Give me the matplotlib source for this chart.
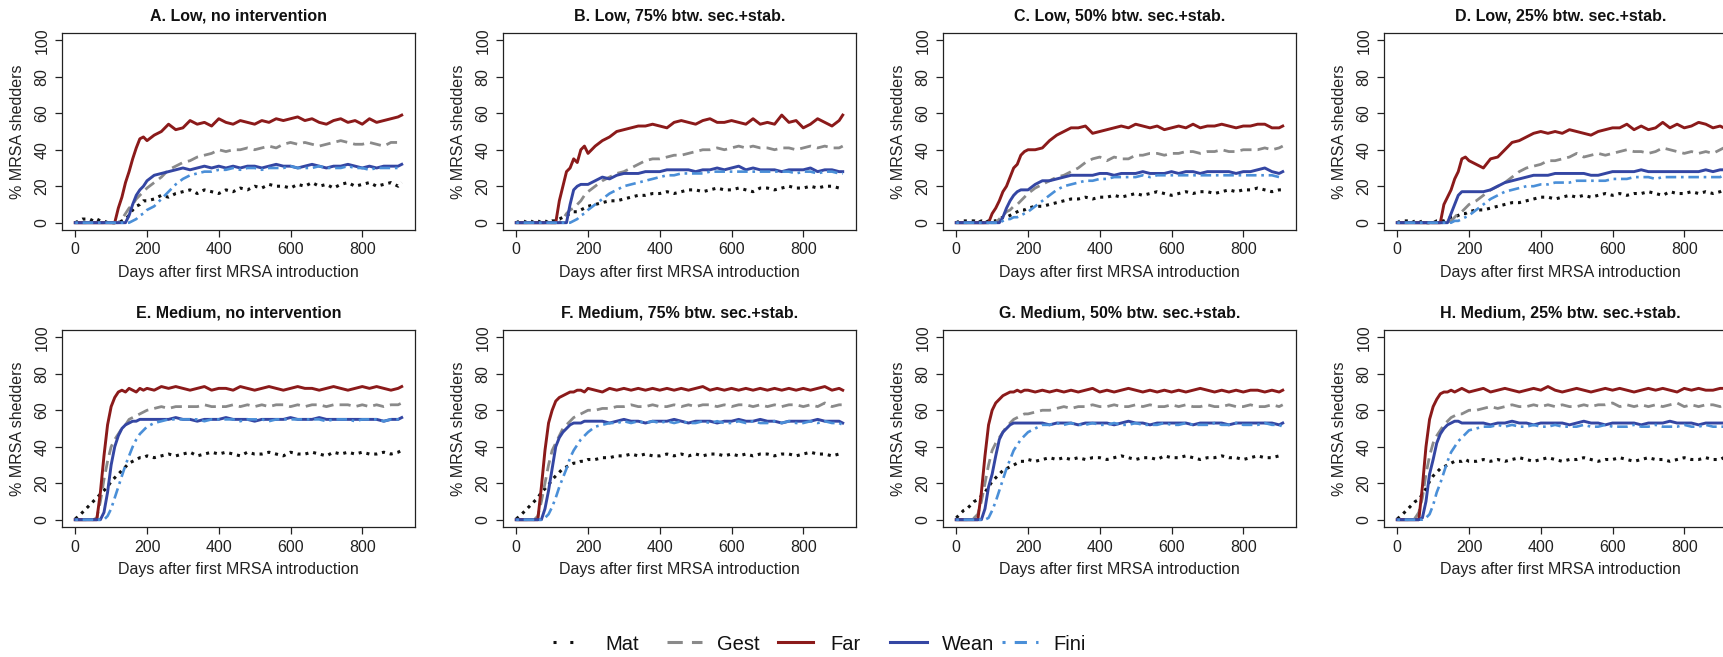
import matplotlib
matplotlib.use("Agg")
import matplotlib.pyplot as plt
from matplotlib.lines import Line2D

plt.rcParams['font.family'] = ['Liberation Sans', 'DejaVu Sans']

days = list(range(0, 201, 10)) + list(range(220, 901, 20)) + [910]

titles = ["A. Low, no intervention", "B. Low, 75% btw. sec.+stab.",
          "C. Low, 50% btw. sec.+stab.", "D. Low, 25% btw. sec.+stab.",
          "E. Medium, no intervention", "F. Medium, 75% btw. sec.+stab.",
          "G. Medium, 50% btw. sec.+stab.", "H. Medium, 25% btw. sec.+stab."]
series_names = ["Mat", "Gest", "Far", "Wean", "Fini"]
x_ticks = [0, 200, 400, 600, 800]
y_ticks = [0, 20, 40, 60, 80, 100]

# ---- Panel A ----
A_mat = [0,1,2,2,2,1,2,1,1,0,0,0,0,1,2,4,7,9,10,12,12,
         13,15,14,16,17,18,16,18,17,16,18,17,19,18,20,19,21,20,20,19,21,20,22,20,21,19,21,22,20,21,22,20,21,22,20, 22]
A_gest = [0,0,0,0,0,0,0,0,0,0,0,0,0,2,5,8,10,13,15,17,19,
          22,25,29,31,33,34,36,37,38,40,39,40,40,41,40,41,42,41,43,44,43,44,43,42,43,44,45,44,43,43,44,43,42,44,44, 45]
A_far = [0,0,0,0,0,0,0,0,0,0,0,0,8,14,22,28,35,41,46,47,45,
         48,50,54,51,52,56,54,55,53,57,55,54,56,55,54,56,55,57,56,57,58,56,57,55,54,56,57,55,56,54,57,55,56,57,58, 59]
A_wean = [0,0,0,0,0,0,0,0,0,0,0,0,0,0,0,4,10,15,18,20,23,
          26,27,28,29,30,29,30,31,30,31,30,31,30,31,31,30,31,32,31,31,30,31,32,31,30,31,31,32,31,30,31,30,31,31,31, 32]
A_fini = [0,0,0,0,0,0,0,0,0,0,0,0,0,0,0,0,1,2,4,5,7,
          9,13,17,21,24,26,27,28,28,29,29,30,29,30,30,29,30,30,30,31,30,30,30,31,30,30,30,31,30,30,29,30,30,30,30, 31]

# ---- Panel B ----
B_mat = [0,1,1,0,1,0,1,0,1,0,1,1,2,3,4,5,6,6,7,8,9,
         10,11,12,12,13,14,15,15,16,16,17,16,17,18,18,17,18,19,18,18,19,18,17,19,19,18,19,20,19,19,20,19,20,20,19, 20]
B_gest = [0,0,0,0,0,0,0,0,0,0,0,0,0,2,5,7,8,10,12,15,17,
          20,23,25,27,28,30,32,34,35,35,36,37,37,38,39,40,40,41,40,41,42,41,42,41,41,40,41,41,40,41,42,41,42,41,41, 42]
B_far = [0,0,0,0,0,0,0,0,0,0,0,0,12,20,28,30,35,33,40,42,38,
         42,45,47,50,51,52,53,53,54,53,52,55,56,55,54,56,57,55,55,56,55,54,57,54,55,54,59,55,56,52,54,57,55,53,56, 59]
B_wean = [0,0,0,0,0,0,0,0,0,0,0,0,0,0,0,10,18,20,21,21,21,
          23,25,24,26,27,27,27,28,28,28,29,29,29,29,28,29,29,30,29,30,31,29,30,29,29,29,28,29,29,29,30,28,29,29,28, 28]
B_fini = [0,0,0,0,0,0,0,0,0,0,0,0,0,0,0,0,1,2,4,5,7,
          10,13,16,18,20,21,22,23,24,25,26,26,27,27,27,27,28,28,28,28,28,28,28,28,28,28,28,28,27,28,28,27,28,28,27, 27]

# ---- Panel C ----
C_mat = [0,1,1,1,1,1,0,1,0,1,1,1,2,3,3,4,5,6,7,7,8,
         9,9,10,11,12,13,13,14,13,14,14,15,14,15,16,15,16,17,16,15,16,17,16,17,17,16,17,18,17,18,18,19,18,17,18, 18]
C_gest = [0,0,0,0,0,0,0,0,0,0,0,0,2,4,6,7,9,10,12,14,16,
          19,21,23,25,26,28,30,33,35,36,34,36,35,35,37,37,38,38,37,38,38,39,39,38,39,39,40,39,39,40,40,40,41,40,41, 42]
C_far = [0,0,0,0,0,0,0,0,0,0,5,8,12,17,20,25,30,32,37,39,40,
         40,41,45,48,50,52,52,53,49,50,51,52,53,52,54,53,52,53,51,52,53,52,54,52,53,53,54,53,52,53,53,54,54,52,52, 53]
C_wean = [0,0,0,0,0,0,0,0,0,0,0,0,0,3,8,12,15,17,18,18,18,
          21,23,23,24,25,26,26,26,26,27,27,26,27,27,27,28,27,27,27,28,27,28,28,27,28,28,28,28,27,28,28,29,30,28,27, 28]
C_fini = [0,0,0,0,0,0,0,0,0,0,0,0,0,1,2,2,3,3,4,5,6,
          9,12,15,18,20,21,22,23,23,24,24,25,25,25,25,26,25,26,26,26,26,26,26,26,26,26,26,26,26,26,26,26,26,26,25, 25]

# ---- Panel D ----
D_mat = [0,1,1,1,0,1,0,1,0,0,0,1,1,1,2,3,3,4,5,5,6,
         7,7,8,9,10,11,11,12,13,14,14,13,14,15,14,15,14,15,16,15,16,15,16,16,17,16,15,17,16,16,17,16,17,16,17, 18]
D_gest = [0,0,0,0,0,0,0,0,0,0,0,0,0,0,0,1,3,5,6,8,10,
          12,15,18,20,22,25,28,30,31,32,34,34,35,36,38,36,37,38,37,38,39,40,39,39,38,39,41,40,39,38,39,38,39,38,40, 41]
D_far = [0,0,0,0,0,0,0,0,0,0,0,0,0,10,14,18,24,28,35,36,34,
         32,30,35,36,40,44,45,47,49,50,49,50,49,51,50,49,48,50,51,52,52,54,51,53,51,52,55,52,54,52,53,55,54,52,53, 52]
D_wean = [0,0,0,0,0,0,0,0,0,0,0,0,0,0,0,5,10,15,17,17,17,
          17,17,18,20,22,23,24,25,26,26,26,27,27,27,27,27,26,26,27,28,28,28,28,29,28,28,28,28,28,28,28,28,29,28,29, 29]
D_fini = [0,0,0,0,0,0,0,0,0,0,0,0,0,0,0,0,1,1,2,3,4,
          7,10,13,15,17,18,19,20,20,21,21,22,22,22,23,23,23,23,23,24,24,24,25,25,25,24,25,25,25,25,25,25,25,25,25, 26]

# ---- Panel E ----
E_mat = [0.5,2,4,6,8,10,12,14,16,18,21,23,25,27,29,31,32,33,34,34,35,
         34,35,36,35,36,37,35,36,37,36,37,36,35,37,36,36,37,36,35,37,36,36,37,36,35,37,36,37,36,37,36,36,37,36,37, 38]
E_gest = [0,0,0,0,0,0,1,10,22,32,40,44,47,50,52,55,56,57,58,59,60,
          61,62,61,62,62,62,62,63,62,62,62,63,62,63,62,63,62,63,63,62,63,62,63,63,62,63,63,63,62,63,62,63,62,63,63, 64]
E_far = [0,0,0,0,0,0,0,15,35,52,62,67,70,71,70,72,71,70,72,71,72,
         71,73,72,73,72,71,72,73,71,72,72,71,73,72,71,72,73,72,71,72,73,72,72,71,72,73,72,71,72,73,72,73,72,71,72, 73]
E_wean = [0,0,0,0,0,0,0,0,4,15,30,40,46,50,52,53,54,54,55,55,55,
          55,55,55,56,55,55,54,55,55,55,56,55,55,55,54,55,55,55,55,56,55,55,55,56,55,55,55,55,55,55,55,55,54,55,55, 56]
E_fini = [0,0,0,0,0,0,0,0,0,2,6,12,18,24,30,35,40,44,47,49,51,
          53,54,55,55,55,55,55,54,55,55,55,55,54,55,55,55,54,55,55,55,55,55,55,55,54,55,55,55,54,55,55,55,54,55,55, 55]

# ---- Panel F ----
F_mat = [0.5,2,4,6,8,10,12,15,17,19,22,24,26,28,29,30,31,31,32,32,33,
         33,34,34,35,35,36,35,36,35,35,36,35,36,35,36,35,36,36,35,36,35,36,35,36,36,35,36,36,35,36,37,36,36,35,36, 35]
F_gest = [0,0,0,0,0,0,2,10,20,30,38,42,46,50,52,54,56,57,58,59,60,
          60,61,61,62,62,63,62,62,63,62,62,63,62,63,62,63,63,62,63,62,63,63,62,63,62,63,62,63,63,62,63,62,64,62,63, 63]
F_far = [0,0,0,0,0,0,0,18,38,53,60,65,67,68,69,70,70,71,71,70,72,
         71,70,72,71,72,71,72,71,72,71,72,71,72,71,72,73,71,72,71,72,71,72,71,72,71,72,71,72,71,72,71,72,73,71,72, 71]
F_wean = [0,0,0,0,0,0,0,0,6,16,28,40,45,48,50,52,53,53,53,54,54,
          54,54,53,54,55,54,54,53,54,54,54,55,54,53,54,54,54,53,54,54,55,54,54,55,54,54,53,54,54,54,54,55,54,54,54, 53]
F_fini = [0,0,0,0,0,0,0,0,1,3,7,12,18,23,28,34,38,41,44,46,48,
          51,52,53,53,54,53,54,53,54,53,54,53,54,53,53,54,53,54,53,53,54,53,54,53,53,54,53,54,53,53,54,53,54,53,53, 52]

# ---- Panel G ----
G_mat = [1,3,5,6,8,10,11,13,15,18,21,23,25,27,28,29,30,31,32,32,33,
         32,33,34,33,34,33,34,33,34,34,33,34,35,34,33,34,34,33,35,34,34,35,34,33,34,34,35,34,34,33,34,35,34,34,35, 34]
G_gest = [0,0,0,0,0,1,3,10,20,30,38,42,45,48,51,53,55,56,57,58,58,
          59,60,60,61,62,61,62,62,63,62,62,63,62,62,63,62,63,62,62,63,62,63,62,62,63,62,62,63,62,62,63,62,62,63,62, 63]
G_far = [0,0,0,0,0,0,0,15,35,52,60,64,66,68,69,70,70,71,70,71,71,
         70,71,70,71,70,71,70,71,72,70,71,70,71,72,71,70,71,70,71,70,71,70,71,72,71,70,71,70,71,70,71,71,70,71,70, 71]
G_wean = [0,0,0,0,0,0,0,0,6,18,25,35,44,48,50,52,53,53,53,53,53,
          53,53,52,53,53,53,52,53,53,53,53,52,53,54,53,53,52,53,53,53,53,53,52,53,53,53,53,52,53,53,53,53,53,53,52, 53]
G_fini = [0,0,0,0,0,0,0,0,0,1,5,10,16,22,28,33,38,41,44,46,48,
          50,52,52,53,52,53,52,52,53,52,52,53,52,52,53,52,52,52,53,52,52,53,52,52,52,53,52,52,53,52,52,52,53,52,52, 51]

# ---- Panel H ----
H_mat = [0.5,2,4,6,8,10,11,14,17,21,24,26,28,29,30,31,32,32,32,33,32,
         32,33,32,33,32,33,34,33,32,33,34,33,32,33,33,34,33,32,33,33,34,33,32,33,34,33,33,32,33,34,33,33,34,33,33, 34]
H_gest = [0,0,0,0,0,1,4,12,25,35,42,46,49,52,54,56,57,58,58,59,60,
          60,61,62,61,62,63,62,62,63,62,63,62,63,62,62,63,62,63,63,64,62,63,62,63,62,63,62,63,64,62,63,62,63,63,62, 63]
H_far = [0,0,0,0,0,0,0,18,40,55,62,66,69,70,70,71,70,71,72,71,70,
         71,72,70,71,72,71,70,71,72,71,73,71,70,71,72,71,70,71,72,71,72,71,70,71,72,71,72,71,70,72,71,72,71,71,72, 72]
H_wean = [0,0,0,0,0,0,0,1,10,25,33,42,47,50,52,53,54,54,53,53,53,
          53,53,52,53,53,54,53,53,52,53,53,53,53,52,53,54,53,53,52,53,53,53,53,52,53,53,53,54,53,53,53,52,53,53,53, 53]
H_fini = [0,0,0,0,0,0,0,0,1,3,8,15,20,26,32,37,40,43,45,47,49,
          50,51,51,52,51,52,51,51,52,51,51,52,51,51,51,52,51,51,52,51,51,51,52,51,51,52,51,51,51,52,51,51,52,51,51, 51]

panel_data = [
    [A_mat, A_gest, A_far, A_wean, A_fini],
    [B_mat, B_gest, B_far, B_wean, B_fini],
    [C_mat, C_gest, C_far, C_wean, C_fini],
    [D_mat, D_gest, D_far, D_wean, D_fini],
    [E_mat, E_gest, E_far, E_wean, E_fini],
    [F_mat, F_gest, F_far, F_wean, F_fini],
    [G_mat, G_gest, G_far, G_wean, G_fini],
    [H_mat, H_gest, H_far, H_wean, H_fini],
]

# styles
colors = ["#111111", "#8a8a8a", "#8b1a1a", "#3446a3", "#4a8fd8"]
styles = [dict(ls=(0, (1, 1.6)), lw=2.2),
          dict(ls=(0, (4, 2.2)), lw=2.0),
          dict(ls='-', lw=2.1),
          dict(ls='-', lw=2.1),
          dict(ls=(0, (1, 1.8, 4, 1.8)), lw=1.9)]

W, H = 1724, 657
fig = plt.figure(figsize=(W / 100, H / 100), dpi=100)

lefts = [62, 503, 943, 1384]
tops = [33, 330]
ax_w, ax_h = 353, 197

for idx, (title, data) in enumerate(zip(titles, panel_data)):
    r, c = divmod(idx, 4)
    l = lefts[c]
    t = tops[r]
    ax = fig.add_axes([l / W, (H - t - ax_h) / H, ax_w / W, ax_h / H])
    for s_i, vals in enumerate(data):
        n = min(len(days), len(vals))
        ax.plot(days[:n], vals[:n], color=colors[s_i], **styles[s_i])
    ax.set_xlim(-37, 947)
    ax.set_ylim(-4, 104)
    ax.set_xticks(x_ticks)
    ax.set_yticks(y_ticks)
    ax.tick_params(direction='out', length=5, width=0.9, labelsize=11.5,
                   color='#222222', labelcolor='#222222', pad=4)
    for lab in ax.get_yticklabels():
        lab.set_rotation(90)
        lab.set_va('center')
    for sp in ax.spines.values():
        sp.set_linewidth(0.9)
        sp.set_color('#222222')
    ax.set_xlabel("Days after first MRSA introduction", fontsize=11.5, color='#222222')
    ax.xaxis.set_label_coords(0.5, -0.215)
    ax.xaxis.label.set_va('center')
    ax.set_ylabel("% MRSA shedders", fontsize=11.5, color='#222222')
    ax.yaxis.set_label_coords(-0.125, 0.5)
    ax.yaxis.label.set_va('center')
    ax.text(0.5, 1.087, title, transform=ax.transAxes, ha='center', va='center',
            fontsize=11.5, fontweight='bold', color='#111111')

# legend (manual placement)
leg_y = (H - 642) / H
handles_px = [(553, 582), (667, 702), (778, 813), (890, 927), (1002, 1038)]
text_px = [605, 717, 830, 942, 1053]
leg_styles = [dict(ls=(0, (1, 4.5)), lw=2.2),
              dict(ls=(0, (5, 3)), lw=2.2),
              dict(ls='-', lw=2.2),
              dict(ls='-', lw=2.2),
              dict(ls=(0, (1, 3, 4, 3)), lw=2.2)]
for i, name in enumerate(series_names):
    x0, x1 = handles_px[i]
    fig.add_artist(Line2D([x0 / W, x1 / W], [leg_y, leg_y], color=colors[i],
                          transform=fig.transFigure, **leg_styles[i]))
    fig.text(text_px[i] / W, (H - 644) / H, name, ha='left', va='center',
             fontsize=14.5, color='#111111')

fig.savefig("out.png", dpi=100)
